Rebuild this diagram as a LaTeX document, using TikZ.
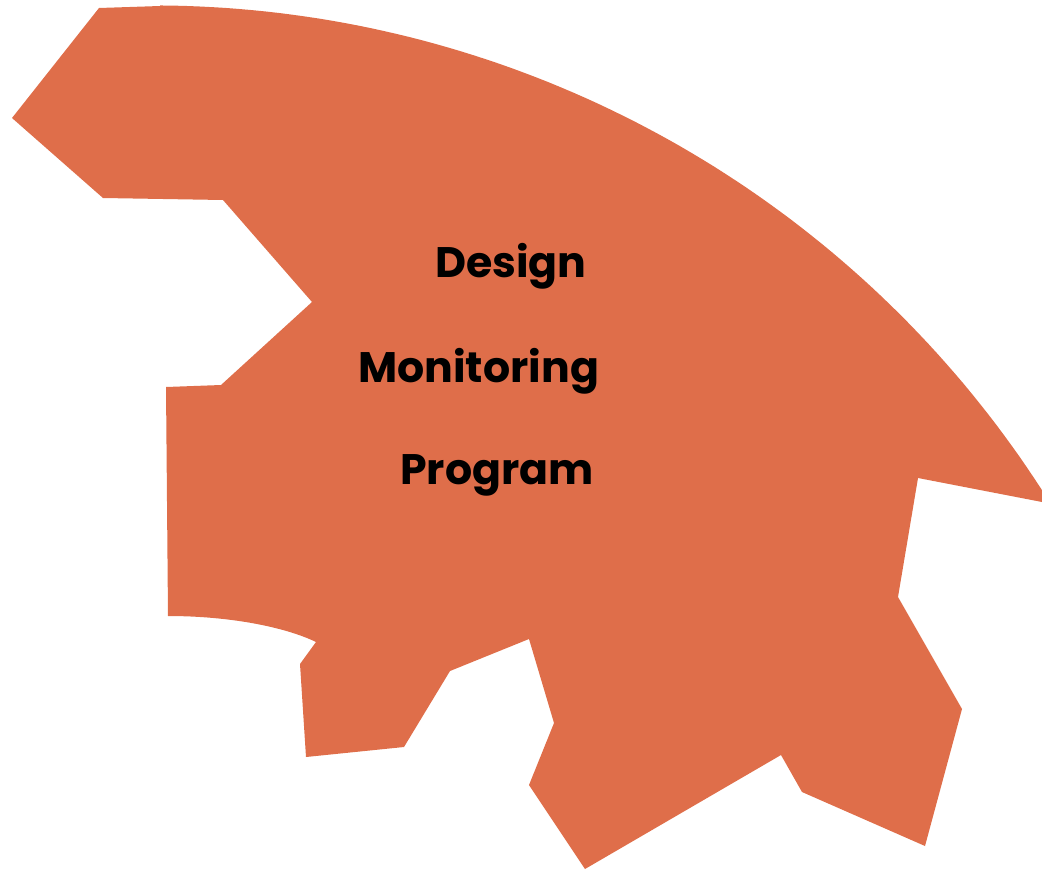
\documentclass[tikz,border=0pt]{standalone}
\usepackage{fontspec}
\newfontfamily\labelfont{Poppins}
\definecolor{shapeorange}{RGB}{223,110,74}
\begin{document}
\begin{tikzpicture}[x=0.75pt,y=-0.75pt,
  lbl/.style={anchor=base west, inner sep=0pt, text=black,
    font=\labelfont\bfseries\fontsize{32}{38}\selectfont}]
\useasboundingbox (0,0) rectangle (1042,871);
\fill[shapeorange] (99,8) -- (160,6)
  -- plot[domain=89.6:32.8, samples=80] ({152.8+1058*cos(\x)},{1063.4-1058*sin(\x)})
  -- (1042,502) -- (918,478) -- (898,597) -- (962,709) -- (925,846)
  -- (802,792) -- (781,755) -- (585,869) -- (529,785) -- (554,723)
  -- (529,639) -- (450,671) -- (404,747) -- (306,757) -- (300,664)
  -- (316,642) .. controls (285,627) and (230,616) .. (168,616)
  -- (166,387) -- (221,385) -- (312,302) -- (223,200) -- (103,198)
  -- (12,118) -- cycle;
\node[lbl] (design) at (435,277) {Design};
\node[lbl] (monitoring) at (358,382) {Monitoring};
\node[lbl] (program) at (400,484) {Program};
\end{tikzpicture}
\end{document}
